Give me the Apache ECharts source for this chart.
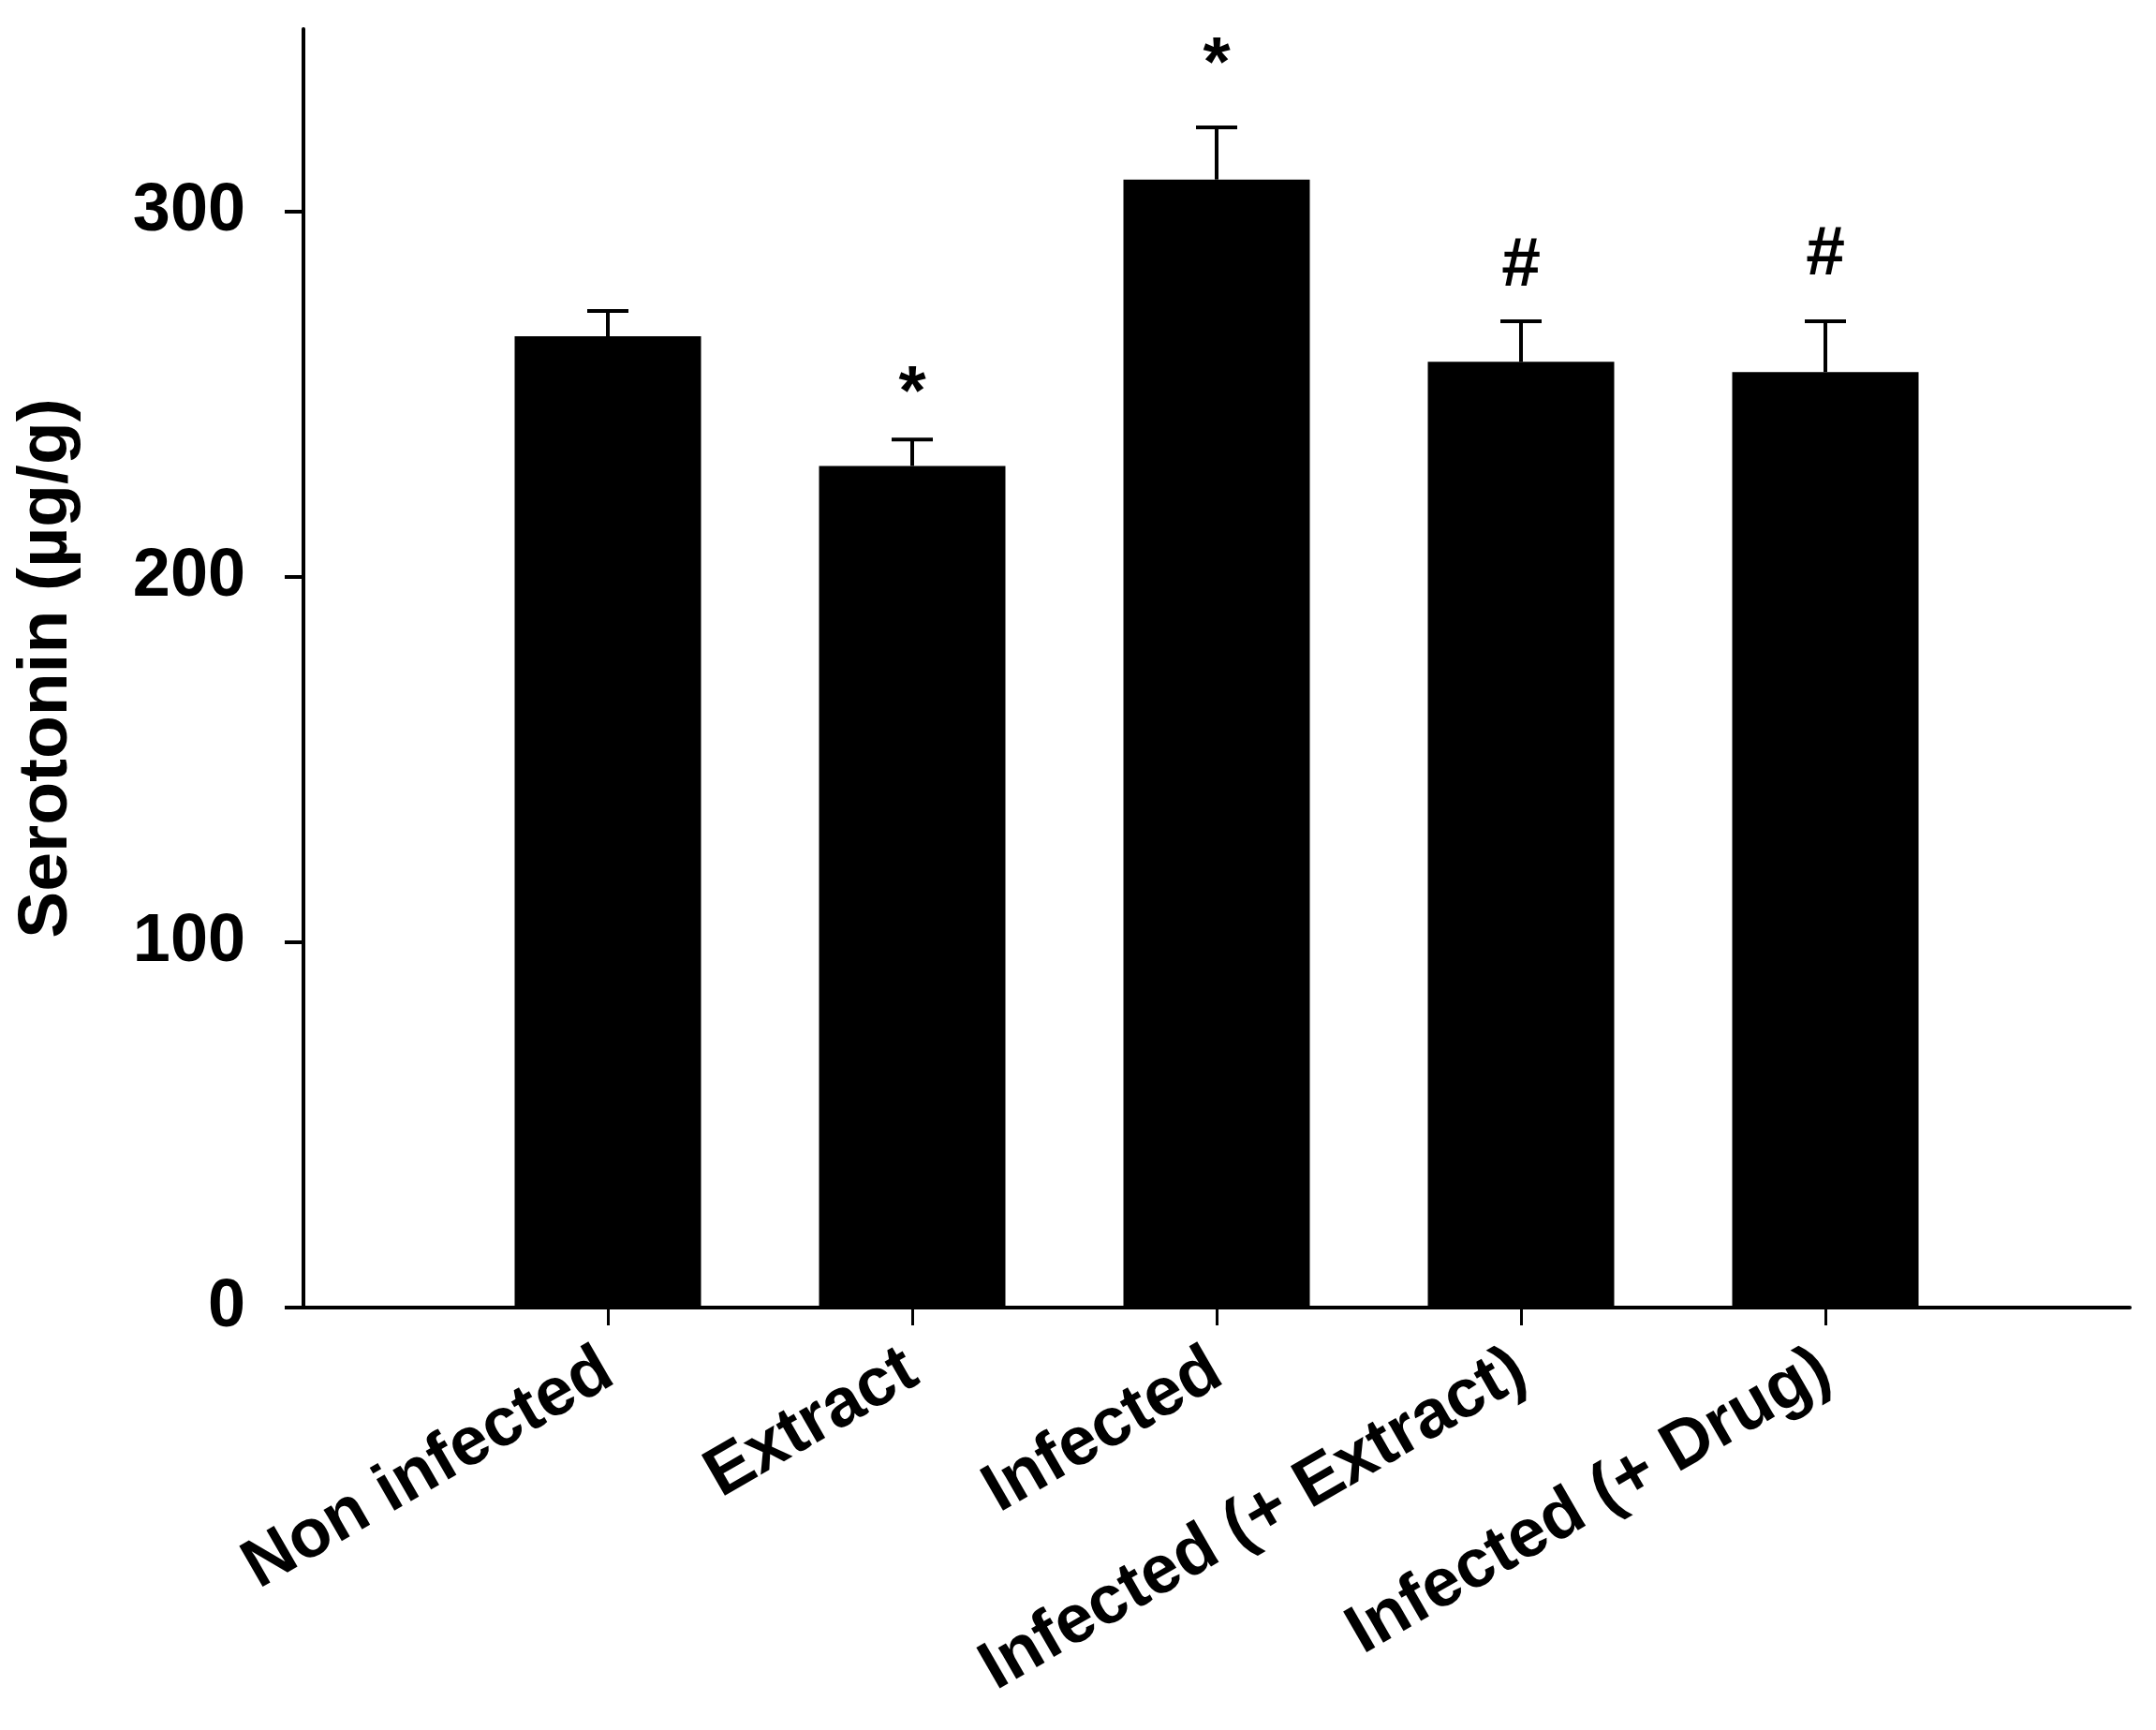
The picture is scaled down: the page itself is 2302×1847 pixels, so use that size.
<!DOCTYPE html>
<html>
<head>
    <meta charset="UTF-8">
    <title>Serotonin</title>
    <style>
        html, body {
            margin: 0;
            padding: 0;
            width: 100%;
            height: 100%;
            background: #fff;
        }
        #chart {
            width: 2302px;
            height: 1847px;
        }
    </style>
    <script src="https://cdn.jsdelivr.net/npm/echarts@6/dist/echarts.min.js"></script>
</head>
<body>
<div id="chart"></div>
<script type="text/javascript">
    var categories = ['Non infected', 'Extract', 'Infected', 'Infected (+ Extract)', 'Infected (+ Drug)'];
    var means = [265.9, 230.4, 308.8, 258.9, 256.1];
    var sem = [6.9, 7.2, 14.3, 11.1, 13.9];
    // significance marks and the height (in µg/g) they are drawn at
    var marks = ['', '*', '*', '#', '#'];
    var markLevels = [null, 250, 340, 285, 288];
    var yTicks = [0, 100, 200, 300];

    var font = "'Liberation Sans', Arial, sans-serif";

    // one empty slot on each side so the bars sit on the ticks
    var axisData = [''].concat(categories, ['']);
    var barData = ['-'].concat(means, ['-']);
    var errData = categories.map(function (c, i) {
        return [i + 1, means[i], means[i] + sem[i], i];
    });

    var myChart = echarts.init(document.getElementById('chart'));

    var option = {
        backgroundColor: '#fff',
        animation: false,
        grid: {
            left: 324,
            right: 28,
            top: 31,
            bottom: 451
        },
        xAxis: {
            type: 'category',
            data: axisData,
            boundaryGap: false,
            axisLine: {lineStyle: {color: '#000', width: 4}},
            axisTick: {
                length: 19,
                lineStyle: {color: '#000', width: 3},
                interval: function (index, value) {
                    return value !== '';
                }
            },
            axisLabel: {
                interval: 0,
                rotate: 30,
                margin: 62,
                color: '#000',
                fontSize: 73,
                fontWeight: 'bold',
                fontFamily: font
            },
            splitLine: {show: false}
        },
        yAxis: {
            type: 'value',
            min: 0,
            max: 350,
            name: 'Serotonin (µg/g)',
            nameLocation: 'middle',
            nameGap: 236,
            nameRotate: 90,
            nameTextStyle: {
                color: '#000',
                fontSize: 75,
                fontWeight: 'bold',
                fontFamily: font
            },
            axisLine: {show: true, lineStyle: {color: '#000', width: 4}},
            axisTick: {
                show: true,
                length: 20,
                customValues: yTicks,
                lineStyle: {color: '#000', width: 4}
            },
            axisLabel: {
                customValues: yTicks,
                margin: 62,
                color: '#000',
                fontSize: 72,
                fontWeight: 'bold',
                fontFamily: font
            },
            splitLine: {show: false}
        },
        series: [{
            type: 'bar',
            data: barData,
            barWidth: 199,
            itemStyle: {color: '#000'}
        }, {
            type: 'custom',
            data: errData,
            z: 5,
            renderItem: function (params, api) {
                var x = api.value(0);
                var i = api.value(3);
                var top = api.coord([x, api.value(1)]);
                var cap = api.coord([x, api.value(2)]);
                var style = {stroke: '#000', lineWidth: 4};
                var children = [{
                    type: 'line',
                    shape: {x1: top[0], y1: top[1], x2: cap[0], y2: cap[1]},
                    style: style
                }, {
                    type: 'line',
                    shape: {x1: cap[0] - 22, y1: cap[1], x2: cap[0] + 22, y2: cap[1]},
                    style: style
                }];
                if (marks[i]) {
                    var p = api.coord([x, markLevels[i]]);
                    children.push({
                        type: 'text',
                        style: {
                            text: marks[i],
                            x: p[0],
                            y: p[1],
                            align: 'center',
                            verticalAlign: 'middle',
                            fill: '#000',
                            font: 'bold 75px ' + font
                        }
                    });
                }
                return {type: 'group', children: children};
            }
        }]
    };
    myChart.setOption(option);
</script>
</body>
</html>
